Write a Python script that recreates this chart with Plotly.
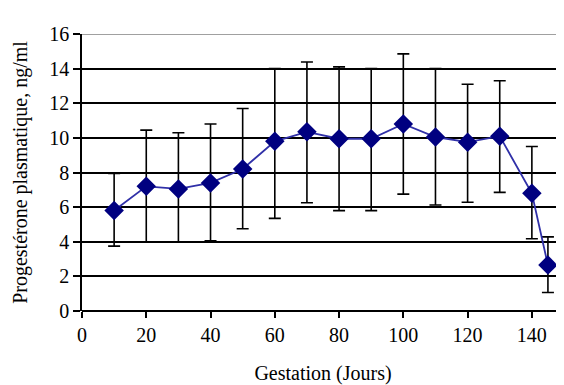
import plotly.graph_objects as go

days = [10, 20, 30, 40, 50, 60, 70, 80, 90, 100, 110, 120, 130, 140, 145]
mean = [5.8, 7.2, 7.05, 7.4, 8.2, 9.8, 10.35, 9.95, 9.95, 10.8, 10.05, 9.75, 10.1, 6.8, 2.65]
upper = [7.95, 10.45, 10.3, 10.8, 11.7, 14.0, 14.38, 14.1, 14.0, 14.85, 14.0, 13.1, 13.3, 9.5, 4.28]
lower = [3.75, 4.0, 4.0, 4.05, 4.75, 5.35, 6.25, 5.8, 5.8, 6.75, 6.12, 6.28, 6.85, 4.17, 1.07]

x_title = "Gestation (Jours)"
y_title = "Progestérone plasmatique, ng/ml"

err_plus = [u - m for u, m in zip(upper, mean)]
err_minus = [m - l for m, l in zip(mean, lower)]

font = "Liberation Serif, Times New Roman, serif"

fig = go.Figure()
fig.add_trace(go.Scatter(
    x=days, y=mean, mode="lines+markers",
    line=dict(color="#3030a8", width=1.8),
    marker=dict(symbol="diamond", size=15, color="#000080"),
    error_y=dict(type="data", symmetric=False, array=err_plus, arrayminus=err_minus,
                 color="black", thickness=1.6, width=6),
    cliponaxis=False,
    showlegend=False,
))

fig.add_shape(type="line", xref="paper", yref="y", x0=0, x1=1, y0=16, y1=16,
              line=dict(color="#a0a0a0", width=2), layer="below")

fig.update_layout(
    width=556, height=377,
    margin=dict(l=74, r=0, t=26, b=74),
    paper_bgcolor="white", plot_bgcolor="white",
    font=dict(family=font, color="black", size=20),
    xaxis=dict(range=[0, 150], tickvals=[0, 20, 40, 60, 80, 100, 120, 140],
               showgrid=False, zeroline=False, showline=False,
               ticks="outside", ticklen=6, tickwidth=1.6, tickcolor="black",
               title=dict(text=x_title, font=dict(size=20), standoff=20)),
    yaxis=dict(range=[0, 16], tickvals=[0, 2, 4, 6, 8, 10, 12, 14, 16],
               showgrid=True, gridcolor="black", gridwidth=1.6,
               zeroline=True, zerolinecolor="black", zerolinewidth=1.6,
               showline=True, linecolor="black", linewidth=1.6,
               ticks="outside", ticklen=7, tickwidth=1.6, tickcolor="black",
               title=dict(text=y_title, font=dict(size=20), standoff=16)),
)

fig.write_html("out.html")
